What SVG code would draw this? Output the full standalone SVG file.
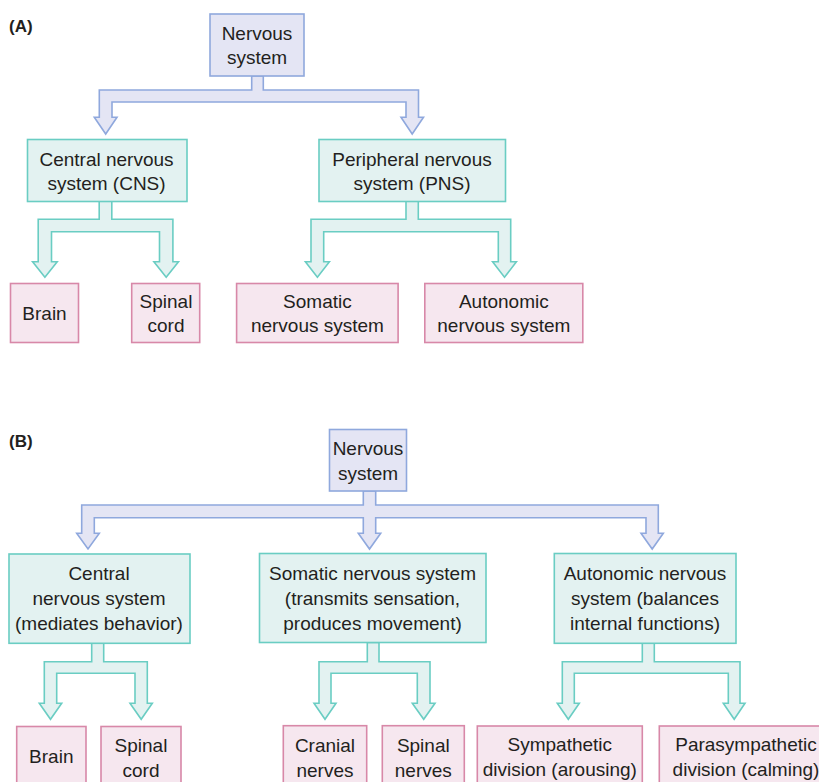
<svg xmlns="http://www.w3.org/2000/svg" width="819" height="782" viewBox="0 0 819 782">
<style>
text{font-family:"Liberation Sans",Arial,sans-serif;font-size:19px;fill:#231f20;text-anchor:middle}
.ttl{font-weight:bold;font-size:17px;text-anchor:start}
.lav{fill:#e4e5f4;stroke:#8fa8dd;stroke-width:1.6}
.teal{fill:#e3f2f1;stroke:#6acdc3;stroke-width:1.6}
.pink{fill:#f6e7ef;stroke:#d888a8;stroke-width:1.6}
.cl{fill:#e4e5f4;stroke:#8fa8dd;stroke-width:1.6;stroke-linejoin:miter}
.ct{fill:#e3f2f1;stroke:#6acdc3;stroke-width:1.6;stroke-linejoin:miter}
</style>
<rect width="819" height="782" fill="#ffffff"/>
<text class="ttl" x="9" y="32">(A)</text>
<text class="ttl" x="9" y="447">(B)</text>

<g id="connectors">
<path class="cl" d="M251.7 76 L251.7 90 L99.3 90 L99.3 117.3 L94.3 117.3 L105.7 134 L117 117.3 L112 117.3 L112 102 L406 102 L406 117.3 L401 117.3 L412.2 134 L423.5 117.3 L418.5 117.3 L418.5 90 L263.3 90 L263.3 76 Z"/>
<path class="ct" d="M99.2 201.3 L99.2 219.3 L38.2 219.3 L38.2 261.7 L32.6 261.7 L44.9 277.3 L57.2 261.7 L51.5 261.7 L51.5 231.7 L159.5 231.7 L159.5 261.7 L153.9 261.7 L166.2 277.3 L178.5 261.7 L172.9 261.7 L172.9 219.3 L111.8 219.3 L111.8 201.3 Z"/>
<path class="ct" d="M406 201.3 L406 219.3 L311 219.3 L311 261.7 L305.4 261.7 L317.4 277.3 L329.4 261.7 L323.7 261.7 L323.7 231.7 L498.3 231.7 L498.3 261.7 L492.6 261.7 L504.5 277.3 L516.4 261.7 L510.7 261.7 L510.7 219.3 L418.3 219.3 L418.3 201.3 Z"/>
<path class="cl" d="M363.3 491 L363.3 505 L81.7 505 L81.7 533.3 L76.7 533.3 L88 549 L99.3 533.3 L94.3 533.3 L94.3 517.7 L363.3 517.7 L363.3 533.3 L358.3 533.3 L369.5 549 L380.7 533.3 L375.7 533.3 L375.7 517.7 L646 517.7 L646 533.3 L641 533.3 L652.2 549 L663.3 533.3 L658.3 533.3 L658.3 505 L375.7 505 L375.7 491 Z"/>
<path class="ct" d="M91.7 643.3 L91.7 661.7 L44.3 661.7 L44.3 703.3 L39.3 703.3 L50.5 719.3 L61.7 703.3 L56.7 703.3 L56.7 673.3 L135 673.3 L135 703.3 L130 703.3 L141.2 719.3 L152.3 703.3 L147.3 703.3 L147.3 661.7 L103.7 661.7 L103.7 643.3 Z"/>
<path class="ct" d="M367.3 642.5 L367.3 661.7 L319 661.7 L319 703.3 L314 703.3 L325 719.3 L336 703.3 L331 703.3 L331 673.3 L417.3 673.3 L417.3 703.3 L412.3 703.3 L423.7 719.3 L435 703.3 L430 703.3 L430 661.7 L379 661.7 L379 642.5 Z"/>
<path class="ct" d="M642.3 643.3 L642.3 661.7 L562.3 661.7 L562.3 703.3 L557.3 703.3 L568.3 719.3 L579.3 703.3 L574.3 703.3 L574.3 673.3 L728.3 673.3 L728.3 703.3 L723.3 703.3 L734.2 719.3 L745 703.3 L740 703.3 L740 661.7 L654.3 661.7 L654.3 643.3 Z"/>
</g>

<g id="a-nervous"><rect class="lav" x="210" y="14" width="94" height="62"/><text x="257" y="40">Nervous</text><text x="257" y="64">system</text></g>
<g id="a-cns"><rect class="teal" x="27.5" y="139.5" width="159.5" height="62"/><text x="106.5" y="165.5">Central nervous</text><text x="106.5" y="190">system (CNS)</text></g>
<g id="a-pns"><rect class="teal" x="319" y="139.5" width="186.5" height="62"/><text x="412" y="165.5">Peripheral nervous</text><text x="412" y="190">system (PNS)</text></g>
<g id="a-brain"><rect class="pink" x="10.5" y="283.5" width="68" height="59"/><text x="44.5" y="320">Brain</text></g>
<g id="a-spinal"><rect class="pink" x="131.7" y="283.5" width="68" height="59"/><text x="166" y="308">Spinal</text><text x="166" y="332">cord</text></g>
<g id="a-somatic"><rect class="pink" x="236.6" y="283.5" width="161.5" height="59"/><text x="317.4" y="308">Somatic</text><text x="317.4" y="332">nervous system</text></g>
<g id="a-autonomic"><rect class="pink" x="424.8" y="283.5" width="158" height="59"/><text x="503.8" y="308">Autonomic</text><text x="503.8" y="332">nervous system</text></g>

<g id="b-nervous"><rect class="lav" x="329.5" y="429.5" width="77" height="61.5"/><text x="368" y="455">Nervous</text><text x="368" y="480">system</text></g>
<g id="b-cns"><rect class="teal" x="9" y="554" width="181" height="89.3"/><text x="99" y="579.5">Central</text><text x="99" y="604.5">nervous system</text><text x="99" y="629.5">(mediates behavior)</text></g>
<g id="b-somatic"><rect class="teal" x="259.5" y="553.5" width="226.5" height="89"/><text x="372.5" y="579.5">Somatic nervous system</text><text x="372.5" y="604.5">(transmits sensation,</text><text x="372.5" y="629.5">produces movement)</text></g>
<g id="b-autonomic"><rect class="teal" x="554.3" y="553.5" width="181.7" height="89.8"/><text x="645" y="579.5">Autonomic nervous</text><text x="645" y="604.5">system (balances</text><text x="645" y="629.5">internal functions)</text></g>
<g id="b-brain"><rect class="pink" x="16.7" y="726.5" width="69.3" height="70"/><text x="51.3" y="763">Brain</text></g>
<g id="b-spinal-cord"><rect class="pink" x="101" y="726.5" width="80" height="70"/><text x="141" y="752">Spinal</text><text x="141" y="777">cord</text></g>
<g id="b-cranial"><rect class="pink" x="283.3" y="725.7" width="83.4" height="70"/><text x="325" y="752">Cranial</text><text x="325" y="777">nerves</text></g>
<g id="b-spinal-nerves"><rect class="pink" x="382.3" y="725.7" width="82" height="70"/><text x="423.3" y="752">Spinal</text><text x="423.3" y="777">nerves</text></g>
<g id="b-sympathetic"><rect class="pink" x="477.3" y="726" width="165" height="70"/><text x="559.8" y="751">Sympathetic</text><text x="559.8" y="776">division (arousing)</text></g>
<g id="b-parasympathetic"><rect class="pink" x="659.3" y="726" width="174" height="70"/><text x="746" y="751">Parasympathetic</text><text x="746" y="776">division (calming)</text></g>
</svg>
